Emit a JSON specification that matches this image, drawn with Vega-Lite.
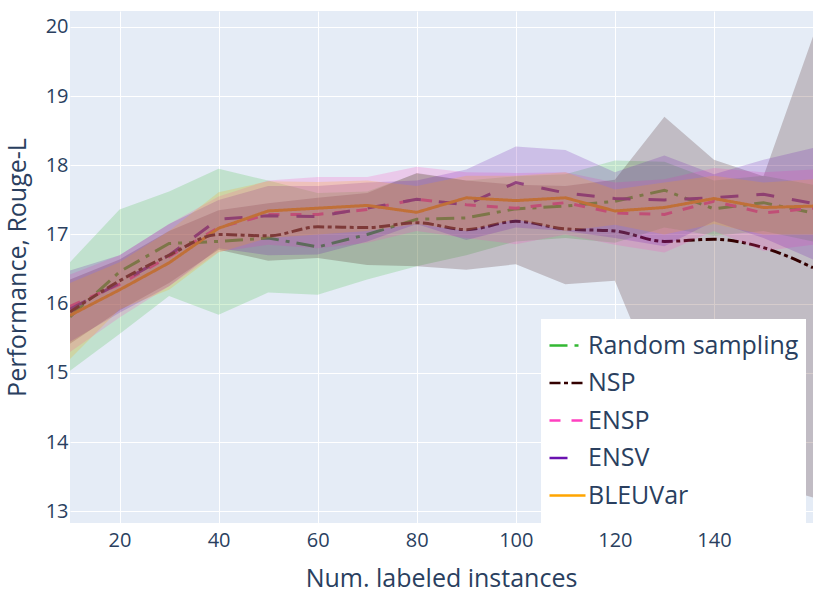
{
  "$schema": "https://vega.github.io/schema/vega-lite/v6.json",
  "width": 743,
  "height": 512,
  "autosize": {"type": "none"},
  "padding": {"left": 70, "top": 11, "right": 18, "bottom": 70},
  "background": "white",
  "config": {
    "view": {"fill": "#E5ECF6", "stroke": null},
    "font": "Open Sans",
    "axis": {
      "grid": true,
      "gridColor": "white",
      "gridWidth": 1,
      "domain": false,
      "ticks": false,
      "labelFontSize": 20,
      "labelColor": "#2a3f5f",
      "titleFontSize": 25,
      "titleFontWeight": "normal",
      "titleColor": "#2a3f5f"
    }
  },
  "data": {
    "values": [
      {"x": 10, "series": "Random sampling", "mean": 15.81, "lo": 15.03, "hi": 16.60},
      {"x": 20, "series": "Random sampling", "mean": 16.46, "lo": 15.56, "hi": 17.36},
      {"x": 30, "series": "Random sampling", "mean": 16.87, "lo": 16.11, "hi": 17.62},
      {"x": 40, "series": "Random sampling", "mean": 16.90, "lo": 15.84, "hi": 17.95},
      {"x": 50, "series": "Random sampling", "mean": 16.95, "lo": 16.16, "hi": 17.78},
      {"x": 60, "series": "Random sampling", "mean": 16.82, "lo": 16.13, "hi": 17.60},
      {"x": 70, "series": "Random sampling", "mean": 17.00, "lo": 16.35, "hi": 17.62},
      {"x": 80, "series": "Random sampling", "mean": 17.22, "lo": 16.54, "hi": 17.88},
      {"x": 90, "series": "Random sampling", "mean": 17.24, "lo": 16.70, "hi": 17.78},
      {"x": 100, "series": "Random sampling", "mean": 17.37, "lo": 16.90, "hi": 17.84},
      {"x": 110, "series": "Random sampling", "mean": 17.41, "lo": 16.95, "hi": 17.87},
      {"x": 120, "series": "Random sampling", "mean": 17.48, "lo": 16.88, "hi": 18.07},
      {"x": 130, "series": "Random sampling", "mean": 17.64, "lo": 17.10, "hi": 18.05},
      {"x": 140, "series": "Random sampling", "mean": 17.37, "lo": 16.98, "hi": 17.78},
      {"x": 150, "series": "Random sampling", "mean": 17.46, "lo": 17.05, "hi": 17.85},
      {"x": 160, "series": "Random sampling", "mean": 17.31, "lo": 16.90, "hi": 17.72},

      {"x": 10, "series": "NSP", "mean": 15.88, "lo": 15.42, "hi": 16.35},
      {"x": 20, "series": "NSP", "mean": 16.33, "lo": 15.90, "hi": 16.64},
      {"x": 30, "series": "NSP", "mean": 16.70, "lo": 16.30, "hi": 17.05},
      {"x": 40, "series": "NSP", "mean": 17.00, "lo": 16.78, "hi": 17.35},
      {"x": 50, "series": "NSP", "mean": 16.98, "lo": 16.62, "hi": 17.45},
      {"x": 60, "series": "NSP", "mean": 17.11, "lo": 16.66, "hi": 17.53},
      {"x": 70, "series": "NSP", "mean": 17.10, "lo": 16.56, "hi": 17.60},
      {"x": 80, "series": "NSP", "mean": 17.17, "lo": 16.54, "hi": 17.89},
      {"x": 90, "series": "NSP", "mean": 17.07, "lo": 16.49, "hi": 17.78},
      {"x": 100, "series": "NSP", "mean": 17.19, "lo": 16.57, "hi": 17.72},
      {"x": 110, "series": "NSP", "mean": 17.08, "lo": 16.28, "hi": 17.70},
      {"x": 120, "series": "NSP", "mean": 17.05, "lo": 16.33, "hi": 17.79},
      {"x": 130, "series": "NSP", "mean": 16.90, "lo": 14.60, "hi": 18.70},
      {"x": 140, "series": "NSP", "mean": 16.93, "lo": 13.60, "hi": 18.08},
      {"x": 150, "series": "NSP", "mean": 16.81, "lo": 13.40, "hi": 17.84},
      {"x": 160, "series": "NSP", "mean": 16.52, "lo": 13.20, "hi": 19.86},

      {"x": 10, "series": "ENSP", "mean": 15.96, "lo": 15.30, "hi": 16.42},
      {"x": 20, "series": "ENSP", "mean": 16.28, "lo": 15.80, "hi": 16.70},
      {"x": 30, "series": "ENSP", "mean": 16.68, "lo": 16.25, "hi": 17.15},
      {"x": 40, "series": "ENSP", "mean": 17.10, "lo": 16.75, "hi": 17.55},
      {"x": 50, "series": "ENSP", "mean": 17.29, "lo": 16.85, "hi": 17.78},
      {"x": 60, "series": "ENSP", "mean": 17.29, "lo": 16.80, "hi": 17.83},
      {"x": 70, "series": "ENSP", "mean": 17.36, "lo": 16.88, "hi": 17.83},
      {"x": 80, "series": "ENSP", "mean": 17.51, "lo": 17.05, "hi": 17.98},
      {"x": 90, "series": "ENSP", "mean": 17.43, "lo": 16.95, "hi": 17.90},
      {"x": 100, "series": "ENSP", "mean": 17.38, "lo": 16.86, "hi": 17.89},
      {"x": 110, "series": "ENSP", "mean": 17.46, "lo": 17.00, "hi": 17.90},
      {"x": 120, "series": "ENSP", "mean": 17.31, "lo": 16.85, "hi": 17.75},
      {"x": 130, "series": "ENSP", "mean": 17.29, "lo": 16.74, "hi": 17.80},
      {"x": 140, "series": "ENSP", "mean": 17.48, "lo": 17.05, "hi": 17.96},
      {"x": 150, "series": "ENSP", "mean": 17.31, "lo": 16.76, "hi": 17.90},
      {"x": 160, "series": "ENSP", "mean": 17.38, "lo": 16.85, "hi": 17.94},

      {"x": 10, "series": "ENSV", "mean": 15.92, "lo": 15.45, "hi": 16.48},
      {"x": 20, "series": "ENSV", "mean": 16.30, "lo": 15.87, "hi": 16.70},
      {"x": 30, "series": "ENSV", "mean": 16.70, "lo": 16.25, "hi": 17.15},
      {"x": 40, "series": "ENSV", "mean": 17.22, "lo": 16.80, "hi": 17.50},
      {"x": 50, "series": "ENSV", "mean": 17.27, "lo": 16.70, "hi": 17.70},
      {"x": 60, "series": "ENSV", "mean": 17.26, "lo": 16.71, "hi": 17.70},
      {"x": 70, "series": "ENSV", "mean": 17.38, "lo": 16.90, "hi": 17.75},
      {"x": 80, "series": "ENSV", "mean": 17.51, "lo": 17.15, "hi": 17.78},
      {"x": 90, "series": "ENSV", "mean": 17.43, "lo": 16.92, "hi": 17.94},
      {"x": 100, "series": "ENSV", "mean": 17.75, "lo": 17.10, "hi": 18.27},
      {"x": 110, "series": "ENSV", "mean": 17.60, "lo": 17.05, "hi": 18.22},
      {"x": 120, "series": "ENSV", "mean": 17.52, "lo": 16.95, "hi": 17.90},
      {"x": 130, "series": "ENSV", "mean": 17.50, "lo": 16.83, "hi": 18.14},
      {"x": 140, "series": "ENSV", "mean": 17.53, "lo": 17.19, "hi": 17.87},
      {"x": 150, "series": "ENSV", "mean": 17.58, "lo": 16.95, "hi": 18.08},
      {"x": 160, "series": "ENSV", "mean": 17.45, "lo": 16.64, "hi": 18.25},

      {"x": 10, "series": "BLEUVar", "mean": 15.83, "lo": 15.20, "hi": 16.30},
      {"x": 20, "series": "BLEUVar", "mean": 16.20, "lo": 15.92, "hi": 16.60},
      {"x": 30, "series": "BLEUVar", "mean": 16.59, "lo": 16.20, "hi": 17.05},
      {"x": 40, "series": "BLEUVar", "mean": 17.09, "lo": 16.74, "hi": 17.61},
      {"x": 50, "series": "BLEUVar", "mean": 17.34, "lo": 16.95, "hi": 17.77},
      {"x": 60, "series": "BLEUVar", "mean": 17.38, "lo": 17.00, "hi": 17.76},
      {"x": 70, "series": "BLEUVar", "mean": 17.42, "lo": 17.05, "hi": 17.78},
      {"x": 80, "series": "BLEUVar", "mean": 17.32, "lo": 17.15, "hi": 17.70},
      {"x": 90, "series": "BLEUVar", "mean": 17.53, "lo": 17.05, "hi": 17.85},
      {"x": 100, "series": "BLEUVar", "mean": 17.49, "lo": 17.22, "hi": 17.85},
      {"x": 110, "series": "BLEUVar", "mean": 17.53, "lo": 17.05, "hi": 17.90},
      {"x": 120, "series": "BLEUVar", "mean": 17.34, "lo": 17.14, "hi": 17.65},
      {"x": 130, "series": "BLEUVar", "mean": 17.39, "lo": 17.00, "hi": 17.75},
      {"x": 140, "series": "BLEUVar", "mean": 17.52, "lo": 17.15, "hi": 17.85},
      {"x": 150, "series": "BLEUVar", "mean": 17.39, "lo": 17.00, "hi": 17.75},
      {"x": 160, "series": "BLEUVar", "mean": 17.41, "lo": 17.00, "hi": 17.80}
    ]
  },
  "encoding": {
    "x": {
      "field": "x",
      "type": "quantitative",
      "scale": {"domain": [10, 160], "nice": false, "zero": false},
      "axis": {
        "values": [20, 40, 60, 80, 100, 120, 140],
        "labelPadding": 7,
        "title": "Num. labeled instances",
        "titleBaseline": "alphabetic",
        "titleX": 371,
        "titleY": 63
      }
    }
  },
  "layer": [
    {
      "transform": [{"filter": "datum.series !== 'NSP'"}],
      "mark": {"type": "line", "strokeWidth": 3, "clip": true},
      "encoding": {
        "y": {
          "field": "mean",
          "type": "quantitative",
          "scale": {"domain": [12.83, 20.23], "nice": false, "zero": false},
          "axis": {
            "values": [13, 14, 15, 16, 17, 18, 19, 20],
            "format": "d",
            "labelPadding": 2,
            "title": "Performance, Rouge-L",
            "titleAngle": 270,
            "titleBaseline": "alphabetic",
            "titleAlign": "center",
            "titleX": -45,
            "titleY": 256
          }
        },
        "color": {
          "field": "series",
          "type": "nominal",
          "scale": {
            "domain": ["Random sampling", "NSP", "ENSP", "ENSV", "BLEUVar"],
            "range": ["#33b833", "#330000", "#ff40c0", "#6a11b0", "#ffa500"]
          },
          "legend": {
            "title": " ",
            "titleOrient": "bottom",
            "titleFontSize": 6,
            "titlePadding": 3,
            "orient": "none",
            "legendX": 471,
            "legendY": 308,
            "fillColor": "white",
            "padding": 7,
            "symbolType": "stroke",
            "symbolSize": 1296,
            "symbolStrokeWidth": 2.5,
            "labelFontSize": 25,
            "labelColor": "#2a3f5f",
            "labelOffset": 1,
            "labelLimit": 0,
            "rowPadding": 4.5
          }
        },
        "strokeDash": {
          "field": "series",
          "type": "nominal",
          "scale": {
            "domain": ["Random sampling", "NSP", "ENSP", "ENSV", "BLEUVar"],
            "range": [[18, 7, 4, 7], [11, 3.5, 4, 3.5], [11, 11], [18, 18], [1, 0]]
          }
        }
      }
    },
    {
      "transform": [{"filter": "datum.series === 'NSP'"}],
      "mark": {"type": "line", "strokeWidth": 3, "clip": true, "interpolate": "monotone"},
      "encoding": {
        "y": {"field": "mean", "type": "quantitative"},
        "color": {"field": "series", "type": "nominal"},
        "strokeDash": {"field": "series", "type": "nominal"}
      }
    },
    {
      "mark": {"type": "area", "opacity": 0.2, "clip": true},
      "encoding": {
        "y": {"field": "lo", "type": "quantitative"},
        "y2": {"field": "hi"},
        "fill": {
          "field": "series",
          "type": "nominal",
          "scale": {
            "domain": ["Random sampling", "NSP", "ENSP", "ENSV", "BLEUVar"],
            "range": ["#33b833", "#330000", "#ff40c0", "#6a11b0", "#ffa500"]
          },
          "legend": null
        }
      }
    }
  ]
}
